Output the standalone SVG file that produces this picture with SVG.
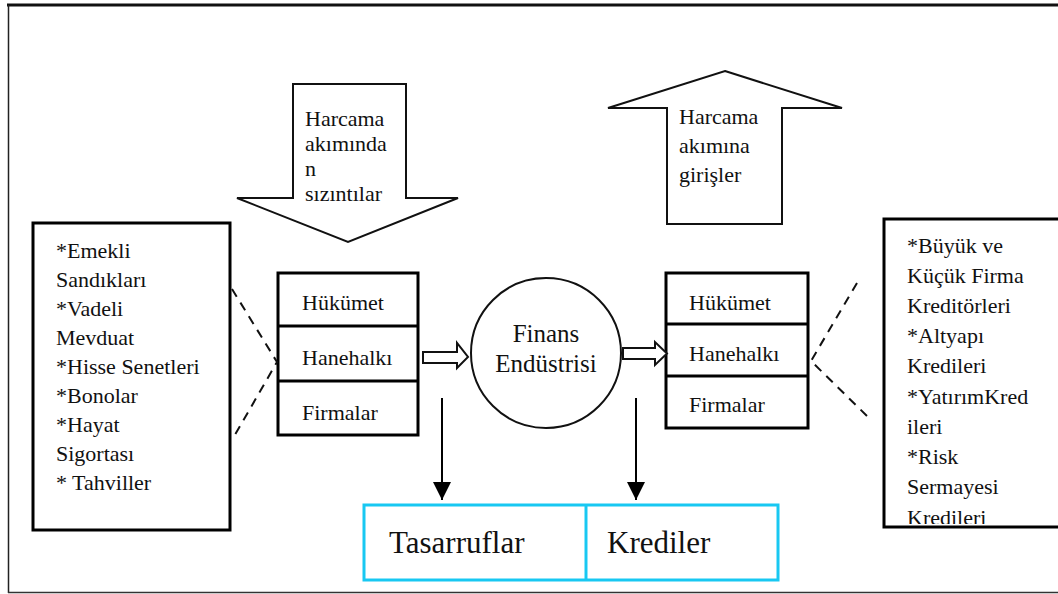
<svg xmlns="http://www.w3.org/2000/svg" width="1058" height="594" viewBox="0 0 1058 594">
  <style>
    .box { fill: #fff; stroke: #000; stroke-width: 3; }
    .thin { fill: #fff; stroke: #111; stroke-width: 2; }
    .dash { fill: none; stroke: #111; stroke-width: 2; stroke-dasharray: 9 7; }
    .link { stroke: #000; stroke-width: 2; fill: none; }
  </style>
  <defs>
    <marker id="tri" viewBox="0 0 10 10" refX="10" refY="5" markerWidth="18" markerHeight="18" markerUnits="userSpaceOnUse" orient="auto">
      <path d="M0,0 L10,5 L0,10 z" fill="#000"/>
    </marker>
    <clipPath id="rightClip">
      <rect x="886" y="221" width="172" height="303"/>
    </clipPath>
  </defs>

  <rect width="1058" height="594" fill="#fff"/>

  <!-- outer frame -->
  <g id="frame">
    <line x1="7" y1="5" x2="1058" y2="5" stroke="#111" stroke-width="3"/>
    <line x1="8.5" y1="5" x2="8.5" y2="593" stroke="#222" stroke-width="1.5"/>
    <line x1="8" y1="592.5" x2="1058" y2="592.5" stroke="#333" stroke-width="1.5"/>
  </g>

  <g font-family="'Liberation Serif', Tinos, 'Nimbus Roman', FreeSerif, 'DejaVu Serif', Times, serif" fill="#111" font-size="22">
  <!-- outflow arrow -->
  <g id="leak-arrow">
    <polygon class="thin" points="293,84 406,84 406,198 458,198 348,242 237,198 293,198"/>
    <text x="305" y="126">Harcama</text>
    <text x="305" y="151">akımında</text>
    <text x="305" y="176">n</text>
    <text x="305" y="201">sızıntılar</text>
  </g>

  <!-- inflow arrow -->
  <g id="inflow-arrow">
    <polygon class="thin" points="725,71 842,108 782,108 782,224 667,224 667,108 608,108"/>
    <text x="679" y="124">Harcama</text>
    <text x="679" y="153">akımına</text>
    <text x="679" y="182">girişler</text>
  </g>

  <!-- savings instruments -->
  <g id="savings-list">
    <rect class="box" x="33" y="223" width="197" height="307"/>
    <text x="56" y="258">*Emekli</text>
    <text x="56" y="287">Sandıkları</text>
    <text x="56" y="316">*Vadeli</text>
    <text x="56" y="345">Mevduat</text>
    <text x="56" y="374">*Hisse Senetleri</text>
    <text x="56" y="403">*Bonolar</text>
    <text x="56" y="432">*Hayat</text>
    <text x="56" y="461">Sigortası</text>
    <text x="56" y="490">* Tahviller</text>
  </g>

  <!-- savers -->
  <g id="savers">
    <rect class="box" x="278" y="273" width="140" height="162"/>
    <line x1="278" y1="326" x2="418" y2="326" stroke="#000" stroke-width="3"/>
    <line x1="278" y1="381" x2="418" y2="381" stroke="#000" stroke-width="3"/>
    <text x="302" y="310">Hükümet</text>
    <text x="302" y="365">Hanehalkı</text>
    <text x="302" y="420">Firmalar</text>
  </g>

  <!-- financial industry -->
  <g id="finance">
    <circle cx="546" cy="353" r="75" fill="#fff" stroke="#111" stroke-width="2"/>
    <text x="546" y="342" font-size="25" text-anchor="middle">Finans</text>
    <text x="546" y="372" font-size="25" text-anchor="middle">Endüstrisi</text>
  </g>

  <!-- borrowers -->
  <g id="borrowers">
    <rect class="box" x="666" y="273" width="142" height="155"/>
    <line x1="666" y1="324" x2="808" y2="324" stroke="#000" stroke-width="3"/>
    <line x1="666" y1="376" x2="808" y2="376" stroke="#000" stroke-width="3"/>
    <text x="689" y="310">Hükümet</text>
    <text x="689" y="361">Hanehalkı</text>
    <text x="689" y="412">Firmalar</text>
  </g>

  <!-- credit types -->
  <g id="credit-list">
    <rect class="box" x="884" y="219" width="190" height="308"/>
    <g clip-path="url(#rightClip)">
      <text x="907" y="253">*Büyük ve</text>
      <text x="907" y="283">Küçük Firma</text>
      <text x="907" y="313">Kreditörleri</text>
      <text x="907" y="343">*Altyapı</text>
      <text x="907" y="373">Kredileri</text>
      <text x="907" y="404">*YatırımKred</text>
      <text x="907" y="434">ileri</text>
      <text x="907" y="464">*Risk</text>
      <text x="907" y="494">Sermayesi</text>
      <text x="907" y="525">Kredileri</text>
    </g>
  </g>

  <!-- savings / credits bar -->
  <g id="totals">
    <rect x="364" y="505" width="414" height="75" fill="#fff" stroke="#18C8F2" stroke-width="3"/>
    <line x1="586" y1="505" x2="586" y2="580" stroke="#18C8F2" stroke-width="3"/>
    <text x="389" y="553" font-size="31">Tasarruflar</text>
    <text x="607" y="553" font-size="31">Krediler</text>
  </g>
  </g>

  <!-- connectors -->
  <g id="connectors">
    <polyline class="dash" points="232,289 277,362 232,440"/>
    <polyline class="dash" points="857,283 811,361 867,416"/>
    <polygon class="thin" points="423,352 457,352 457,343 468,357 457,368 457,363 423,363"/>
    <polygon class="thin" points="623,348 655,348 655,342 667,353.5 655,365 655,359 623,359"/>
    <line class="link" x1="442" y1="398" x2="442" y2="500" marker-end="url(#tri)"/>
    <line class="link" x1="636" y1="398" x2="636" y2="500" marker-end="url(#tri)"/>
  </g>
</svg>
